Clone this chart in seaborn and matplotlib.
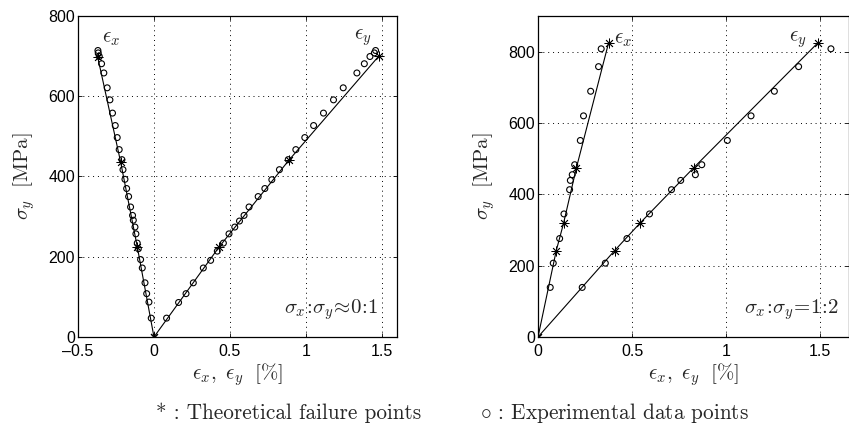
import seaborn as sns
import matplotlib.pyplot as plt

sns.set_theme(
    style="white",
    rc={
        "figure.facecolor": "white",
        "axes.facecolor": "white",
        "axes.edgecolor": "black",
        "axes.linewidth": 0.9,
        "xtick.color": "black",
        "ytick.color": "black",
        "xtick.direction": "in",
        "ytick.direction": "in",
        "xtick.top": True,
        "ytick.right": True,
        "xtick.bottom": True,
        "ytick.left": True,
        "xtick.major.size": 3,
        "ytick.major.size": 3,
        "xtick.major.width": 0.6,
        "ytick.major.width": 0.6,
        "xtick.major.pad": 5,
        "ytick.major.pad": 2,
        "xtick.labelsize": 11.5,
        "ytick.labelsize": 11.5,
        "mathtext.fontset": "cm",
    },
)
plt.rcParams["font.family"] = ["Liberation Sans", "DejaVu Sans"]

# --- left panel: sigma_x:sigma_y ~ 0:1 ---
theo1_ex_x = [0.0, -0.11, -0.22, -0.37]
theo1_ex_y = [0, 225, 437, 697]
theo1_ey_x = [0.0, 0.43, 0.887, 1.48]
theo1_ey_y = [0, 225, 440, 700]

exp1_ex_x = [-0.369, -0.367, -0.360, -0.345, -0.330, -0.308, -0.290, -0.273, -0.255,
             -0.242, -0.229, -0.211, -0.204, -0.191, -0.180, -0.167, -0.154, -0.141,
             -0.136, -0.125, -0.119, -0.110, -0.103, -0.088, -0.077, -0.059, -0.048,
             -0.033, -0.018]
exp1_ex_y = [714, 708, 699, 681, 658, 621, 591, 558, 527, 497, 467, 442, 417, 393, 370,
             350, 324, 303, 291, 274, 257, 234, 220, 193, 172, 135, 108, 87, 47]
exp1_ey_x = [0.083, 0.162, 0.211, 0.259, 0.325, 0.373, 0.417, 0.457, 0.494, 0.532, 0.563,
             0.593, 0.626, 0.686, 0.730, 0.776, 0.826, 0.884, 0.934, 0.993, 1.051, 1.116,
             1.182, 1.246, 1.336, 1.385, 1.422, 1.451, 1.459]
exp1_ey_y = [47, 86, 108, 135, 172, 191, 214, 234, 257, 274, 289, 303, 324, 350, 370, 392,
             417, 442, 467, 497, 527, 558, 591, 621, 658, 681, 699, 708, 714]

# --- right panel: sigma_x:sigma_y = 1:2 ---
theo2_ex_x = [0.0, 0.097, 0.136, 0.204, 0.375]
theo2_ex_y = [0, 242, 319, 474, 824]
theo2_ey_x = [0.0, 0.407, 0.542, 0.827, 1.487]
theo2_ey_y = [0, 242, 319, 474, 824]

exp2_ex_x = [0.065, 0.081, 0.115, 0.138, 0.168, 0.172, 0.182, 0.195, 0.225, 0.242, 0.280,
             0.322, 0.336]
exp2_ex_y = [139, 207, 276, 345, 413, 439, 455, 483, 551, 620, 689, 758, 808]
exp2_ey_x = [0.235, 0.358, 0.473, 0.593, 0.710, 0.759, 0.837, 0.871, 1.007, 1.133, 1.257,
             1.386, 1.558]
exp2_ey_y = [139, 207, 276, 345, 413, 439, 455, 483, 551, 620, 689, 758, 808]

fig = plt.figure(figsize=(8.49, 4.43), dpi=100)
ax1 = fig.add_axes([0.0919, 0.2393, 0.3757, 0.7246])
ax2 = fig.add_axes([0.6337, 0.2393, 0.3663, 0.7246])

star = (8, 2, 0)
cm_size = 15


def draw_panel(ax, theo, exp):
    for tx, ty in theo:
        sns.lineplot(x=tx, y=ty, ax=ax, sort=False, estimator=None, color="black",
                     linewidth=0.8, marker=star, markersize=7, markeredgewidth=0.6,
                     markeredgecolor="black")
    for ex, ey in exp:
        sns.scatterplot(x=ex, y=ey, ax=ax, marker="o", s=18, facecolor="none",
                        edgecolor="black", linewidth=0.8, zorder=3)
    ax.grid(True, color="black", linestyle=(0, (1, 4)), linewidth=0.7)
    ax.set_ylabel(r"$\sigma_y\ \ [\mathrm{MPa}]$", fontsize=cm_size, labelpad=8)
    ax.set_xlabel(r"$\epsilon_x,\ \epsilon_y\ \ [\%]$", fontsize=cm_size, labelpad=2)


draw_panel(ax1, [(theo1_ex_x, theo1_ex_y), (theo1_ey_x, theo1_ey_y)],
           [(exp1_ex_x, exp1_ex_y), (exp1_ey_x, exp1_ey_y)])
ax1.set_xlim(-0.5, 1.6)
ax1.set_ylim(0, 800)
ax1.set_xticks([-0.5, 0, 0.5, 1, 1.5])
ax1.set_xticklabels(["\u20130.5", "0", "0.5", "1", "1.5"])
ax1.set_yticks([0, 200, 400, 600, 800])
ax1.text(-0.34, 745, r"$\epsilon_x$", fontsize=cm_size, ha="left", va="center")
ax1.text(1.43, 745, r"$\epsilon_y$", fontsize=cm_size, ha="right", va="center")
ax1.text(1.48, 67, r"$\sigma_x\!:\!\sigma_y\!\approx\!0\!:\!1$", fontsize=cm_size,
         ha="right", va="center")

draw_panel(ax2, [(theo2_ex_x, theo2_ex_y), (theo2_ey_x, theo2_ey_y)],
           [(exp2_ex_x, exp2_ex_y), (exp2_ey_x, exp2_ey_y)])
ax2.set_xlim(0, 1.654)
ax2.set_ylim(0, 900)
ax2.set_xticks([0, 0.5, 1, 1.5])
ax2.set_xticklabels(["0", "0.5", "1", "1.5"])
ax2.set_yticks([0, 200, 400, 600, 800])
ax2.text(0.405, 835, r"$\epsilon_x$", fontsize=cm_size, ha="left", va="center")
ax2.text(1.43, 835, r"$\epsilon_y$", fontsize=cm_size, ha="right", va="center")
ax2.text(1.6, 77, r"$\sigma_x\!:\!\sigma_y\!=\!1\!:\!2$", fontsize=cm_size,
         ha="right", va="center")

fig.text(0.184, 0.068, "* : Theoretical failure points", fontsize=15.3,
         family="cmr10", ha="left", va="center")
fig.text(0.565, 0.068, r"$\circ$ : Experimental data points", fontsize=15.3,
         family="cmr10", ha="left", va="center")

fig.savefig("out.png", dpi=100)
